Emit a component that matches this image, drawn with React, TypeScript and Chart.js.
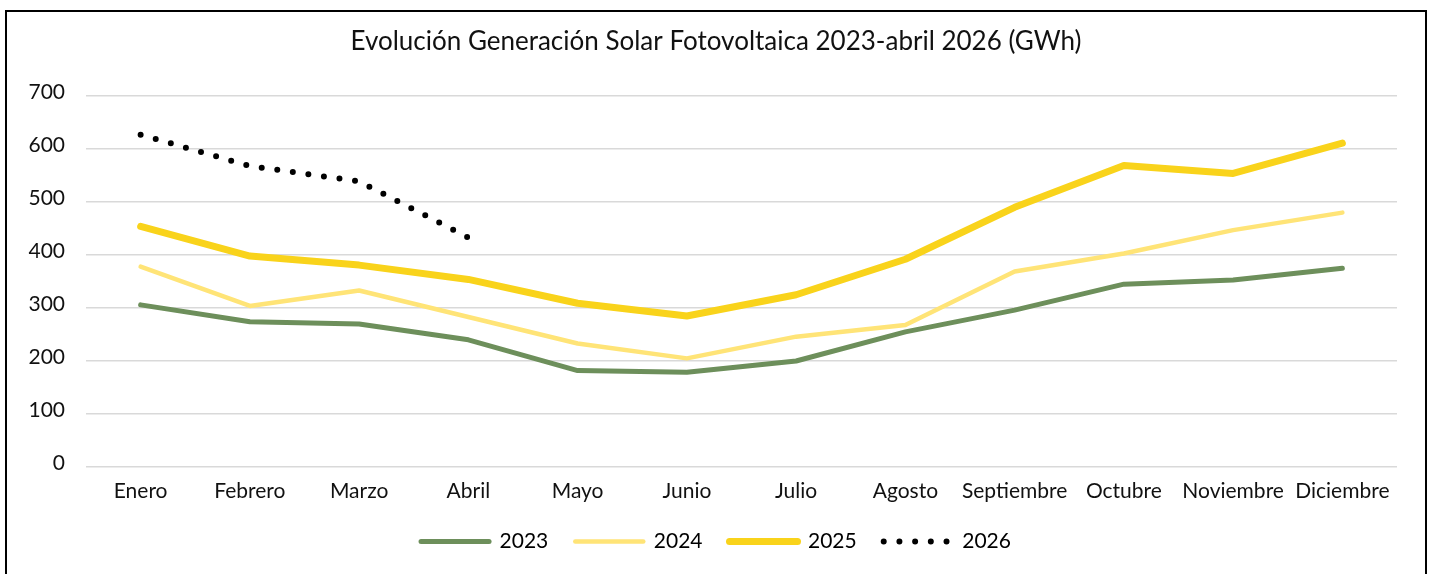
import React, { useEffect, useRef } from "react";
import { Chart, registerables } from "chart.js";

Chart.register(...registerables);

const chartTitle = "Evolución Generación Solar Fotovoltaica 2023-abril 2026 (GWh)";
const months = [
  "Enero", "Febrero", "Marzo", "Abril", "Mayo", "Junio",
  "Julio", "Agosto", "Septiembre", "Octubre", "Noviembre", "Diciembre",
];
const yTickValues = [0, 100, 200, 300, 400, 500, 600, 700];
const seriesNames = ["2023", "2024", "2025", "2026"];
const values2023 = [305, 273, 269, 239, 181, 178, 199, 254, 295, 344, 352, 374];
const values2024 = [377, 303, 332, 282, 232, 204, 245, 267, 368, 402, 446, 479];
const values2025 = [453, 397, 380, 353, 308, 284, 324, 391, 489, 568, 553, 610];
const values2026 = [626, 567, 538, 432, null, null, null, null, null, null, null, null];

const FONT = "Lato, 'Open Sans', sans-serif";

export default function App() {
  const ref = useRef<HTMLCanvasElement | null>(null);

  useEffect(() => {
    if (!ref.current) return;
    const styles = [
      { color: "#6D8F5B", width: 5, dash: [] as number[] },
      { color: "#FFE477", width: 4.5, dash: [] as number[] },
      { color: "#F9D31B", width: 7, dash: [] as number[] },
      { color: "#000000", width: 6, dash: [0, 15.7] },
    ];
    const all = [values2023, values2024, values2025, values2026];
    const chart = new Chart(ref.current, {
      type: "line",
      data: {
        labels: months,
        datasets: all.map((d, i) => ({
          label: seriesNames[i],
          data: d,
          borderColor: styles[i].color,
          backgroundColor: styles[i].color,
          borderWidth: styles[i].width,
          borderDash: styles[i].dash,
          borderCapStyle: "round",
          borderJoinStyle: "round",
          pointRadius: 0,
          pointHoverRadius: 0,
          tension: 0,
          spanGaps: false,
          fill: false,
          yAxisID: "y",
        })),
      },
      options: {
        responsive: false,
        animation: false,
        layout: { padding: { left: 0, right: 0, top: 0, bottom: 12 } },
        plugins: {
          title: {
            display: true,
            text: chartTitle,
            color: "#111111",
            font: { family: FONT, size: 26, weight: "normal" },
            padding: { top: 26.4, bottom: 37.9 },
          },
          legend: {
            position: "bottom",
            labels: {
              usePointStyle: true,
              pointStyleWidth: 68,
              padding: 27,
              color: "#111111",
              font: { family: FONT, size: 21 },
              generateLabels: (c: any) =>
                c.data.datasets.map((ds: any, i: number) => ({
                  text: ds.label,
                  fillStyle: styles[i].color,
                  strokeStyle: styles[i].color,
                  lineWidth: styles[i].width,
                  lineCap: "round",
                  lineDash: styles[i].dash,
                  pointStyle: "line",
                  datasetIndex: i,
                  hidden: false,
                })),
            },
          },
          tooltip: { enabled: false },
        },
        scales: {
          x: {
            offset: true,
            grid: { display: false, drawTicks: false, offset: true },
            border: { display: false },
            ticks: {
              color: "#111111",
              font: { family: FONT, size: 21 },
              padding: 11.9,
              maxRotation: 0,
              autoSkip: false,
            },
            afterFit: (s: any) => {
              s.height = 37.5;
            },
          },
          y: {
            position: "left",
            min: 0,
            max: 700,
            grid: { color: "#d9d9d9", lineWidth: 1.5, drawTicks: false },
            border: { display: false },
            afterBuildTicks: (s: any) => {
              s.ticks = yTickValues.map((v) => ({ value: v }));
            },
            ticks: {
              color: "#111111",
              font: { family: FONT, size: 21 },
              padding: 21,
              labelOffset: -3,
            },
            afterFit: (s: any) => {
              s.width = 86;
            },
          },
          yRight: {
            position: "right",
            display: true,
            min: 0,
            max: 700,
            grid: { display: false, drawTicks: false },
            border: { display: false },
            ticks: { display: false },
            afterFit: (s: any) => {
              s.width = 35;
            },
          },
        },
      },
    });
    return () => chart.destroy();
  }, []);

  return (
    <div
      style={{
        position: "fixed",
        left: 0,
        top: 0,
        width: 1432,
        height: 574,
        background: "#ffffff",
        overflow: "hidden",
      }}
    >
      <canvas
        ref={ref}
        width={1432}
        height={574}
        style={{ position: "absolute", left: 0, top: 0, width: 1432, height: 574, display: "block" }}
      />
      <div
        style={{
          position: "absolute",
          left: 5,
          top: 10,
          width: 1422,
          height: 620,
          boxSizing: "border-box",
          border: "2px solid #000000",
          pointerEvents: "none",
        }}
      />
    </div>
  );
}
